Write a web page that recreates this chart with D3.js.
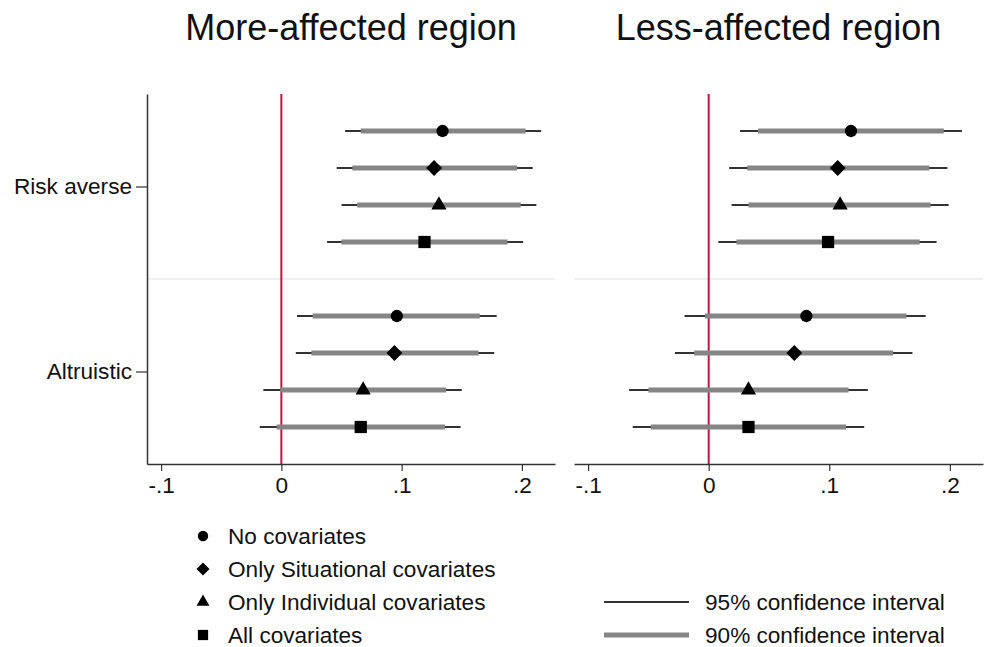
<!DOCTYPE html>
<html>
  <head>
    <meta http-equiv="Content-Type" content="text/html; charset=UTF-8" />
    <title>Coefficient plot</title>
    <style>
      body { margin: 0; background: #fff; }
      svg { display: block; font-family: "Liberation Sans", Arial, sans-serif; }
    </style>
  </head>
  <body>
    <svg id="chart" width="988" height="647"></svg>
    <script src="https://cdnjs.cloudflare.com/ajax/libs/d3/7.8.5/d3.min.js"></script>
    <script>
// categories
const panelTitles = ['More-affected region', 'Less-affected region'];
const outcomes = ['Risk averse', 'Altruistic'];
const models = ['No covariates', 'Only Situational covariates', 'Only Individual covariates', 'All covariates'];
const ciLabels = ['95% confidence interval', '90% confidence interval'];
const xTicks = [-0.1, 0, 0.1, 0.2];
const xTickLabels = ['-.1', '0', '.1', '.2'];

// estimates, order: Risk averse x 4 models, then Altruistic x 4 models
const moreEst  = [0.134, 0.127, 0.131, 0.119, 0.096, 0.094, 0.068, 0.066];
const moreLo95 = [0.053, 0.046, 0.050, 0.038, 0.013, 0.012, -0.015, -0.018];
const moreHi95 = [0.216, 0.209, 0.212, 0.201, 0.179, 0.177, 0.150, 0.149];
const moreLo90 = [0.066, 0.059, 0.063, 0.050, 0.026, 0.025, -0.001, -0.004];
const moreHi90 = [0.203, 0.196, 0.199, 0.188, 0.165, 0.164, 0.137, 0.136];

const lessEst  = [0.118, 0.107, 0.109, 0.099, 0.081, 0.071, 0.033, 0.033];
const lessLo95 = [0.026, 0.017, 0.019, 0.008, -0.020, -0.028, -0.066, -0.063];
const lessHi95 = [0.210, 0.198, 0.199, 0.189, 0.180, 0.169, 0.132, 0.129];
const lessLo90 = [0.041, 0.032, 0.033, 0.023, -0.003, -0.012, -0.050, -0.048];
const lessHi90 = [0.195, 0.183, 0.184, 0.175, 0.164, 0.153, 0.116, 0.114];

const panelData = [
  [moreEst, moreLo95, moreHi95, moreLo90, moreHi90],
  [lessEst, lessLo95, lessHi95, lessLo90, lessHi90]
];

const svg = d3.select('#chart');
const font = 22.6;
const axisColor = '#333';
const thinColor = '#333';
const thickColor = '#858585';
const zeroColor = '#c3143f';

const y = d3.scaleLinear().domain([0, 10]).range([94, 464]);
const panelRanges = [[147, 555], [574, 983]];
const xDomain = [-0.1117, 0.2275];

// marker shapes per model
const markerShape = [
  { type: d3.symbolCircle, size: 120, rot: 0 },
  { type: d3.symbolSquare, size: 125, rot: 45 },
  { type: d3.symbolTriangle, size: 100, rot: 0 },
  { type: d3.symbolSquare, size: 150, rot: 0 }
];
const legendShape = [
  { type: d3.symbolCircle, size: 85, rot: 0 },
  { type: d3.symbolSquare, size: 85, rot: 45 },
  { type: d3.symbolTriangle, size: 72, rot: 0 },
  { type: d3.symbolSquare, size: 105, rot: 0 }
];

const rowPos = (i) => Math.floor(i / 4) * 5 + (i % 4) + 1;

panelData.forEach((pd, p) => {
  const [est, lo95, hi95, lo90, hi90] = pd;
  const x = d3.scaleLinear().domain(xDomain).range(panelRanges[p]);
  const g = svg.append('g');

  // title
  g.append('text')
    .attr('x', d3.mean(panelRanges[p]))
    .attr('y', 40)
    .attr('text-anchor', 'middle')
    .attr('font-size', 36)
    .attr('fill', '#111')
    .text(panelTitles[p]);

  // separator between outcome groups
  g.append('line')
    .attr('x1', panelRanges[p][0]).attr('x2', panelRanges[p][1])
    .attr('y1', y(5)).attr('y2', y(5))
    .attr('stroke', '#e2eeef').attr('stroke-width', 1.5);

  // zero reference line
  g.append('line')
    .attr('x1', x(0)).attr('x2', x(0))
    .attr('y1', y(0)).attr('y2', y(10))
    .attr('stroke', zeroColor).attr('stroke-width', 2);

  // x axis
  const xAxis = g.append('g')
    .attr('transform', `translate(0,${y(10)})`)
    .call(d3.axisBottom(x)
      .tickValues(xTicks)
      .tickFormat((d, i) => xTickLabels[i])
      .tickSize(7)
      .tickPadding(6)
      .tickSizeOuter(0));
  xAxis.select('.domain').attr('stroke', axisColor).attr('stroke-width', 1.5);
  xAxis.selectAll('.tick line').attr('stroke', axisColor).attr('stroke-width', 1.2);
  xAxis.selectAll('.tick text')
    .attr('font-size', font).attr('fill', '#111')
    .attr('font-family', '"Liberation Sans", Arial, sans-serif');

  // y axis (left panel only)
  if (p === 0) {
    const yAxis = g.append('g')
      .attr('transform', `translate(${panelRanges[0][0]},0)`)
      .call(d3.axisLeft(y)
        .tickValues([2.5, 7.5])
        .tickFormat((d, i) => outcomes[i])
        .tickSize(11)
        .tickPadding(4)
        .tickSizeOuter(0));
    yAxis.select('.domain').attr('stroke', axisColor).attr('stroke-width', 1.5);
    yAxis.selectAll('.tick line').attr('stroke', axisColor).attr('stroke-width', 1.2);
    yAxis.selectAll('.tick text')
      .attr('font-size', font).attr('fill', '#111')
      .attr('font-family', '"Liberation Sans", Arial, sans-serif');
  }

  const idx = d3.range(est.length);

  // 95% CI
  g.selectAll('.ci95').data(idx).join('line')
    .attr('x1', i => x(lo95[i])).attr('x2', i => x(hi95[i]))
    .attr('y1', i => y(rowPos(i))).attr('y2', i => y(rowPos(i)))
    .attr('stroke', thinColor).attr('stroke-width', 2);

  // 90% CI
  g.selectAll('.ci90').data(idx).join('line')
    .attr('x1', i => x(lo90[i])).attr('x2', i => x(hi90[i]))
    .attr('y1', i => y(rowPos(i))).attr('y2', i => y(rowPos(i)))
    .attr('stroke', thickColor).attr('stroke-width', 5);

  // point estimates
  g.selectAll('.pt').data(idx).join('path')
    .attr('d', i => d3.symbol().type(markerShape[i % 4].type).size(markerShape[i % 4].size)())
    .attr('transform', i => `translate(${x(est[i])},${y(rowPos(i))}) rotate(${markerShape[i % 4].rot})`)
    .attr('fill', '#000');
});

// legend: markers
const legendY = d3.scaleLinear().domain([0, 3]).range([536, 635]);
const leg = svg.append('g');
models.forEach((m, i) => {
  leg.append('path')
    .attr('d', d3.symbol().type(legendShape[i].type).size(legendShape[i].size)())
    .attr('transform', `translate(203,${legendY(i)}) rotate(${legendShape[i].rot})`)
    .attr('fill', '#000');
  leg.append('text')
    .attr('x', 228).attr('y', legendY(i) + 8)
    .attr('font-size', font).attr('fill', '#111')
    .text(m);
});

// legend: confidence intervals
ciLabels.forEach((c, i) => {
  const yy = legendY(i + 2);
  leg.append('line')
    .attr('x1', 604).attr('x2', 689)
    .attr('y1', yy).attr('y2', yy)
    .attr('stroke', i === 0 ? thinColor : thickColor)
    .attr('stroke-width', i === 0 ? 2 : 5);
  leg.append('text')
    .attr('x', 705).attr('y', yy + 8)
    .attr('font-size', font).attr('fill', '#111')
    .text(c);
});
    </script>
  </body>
</html>
